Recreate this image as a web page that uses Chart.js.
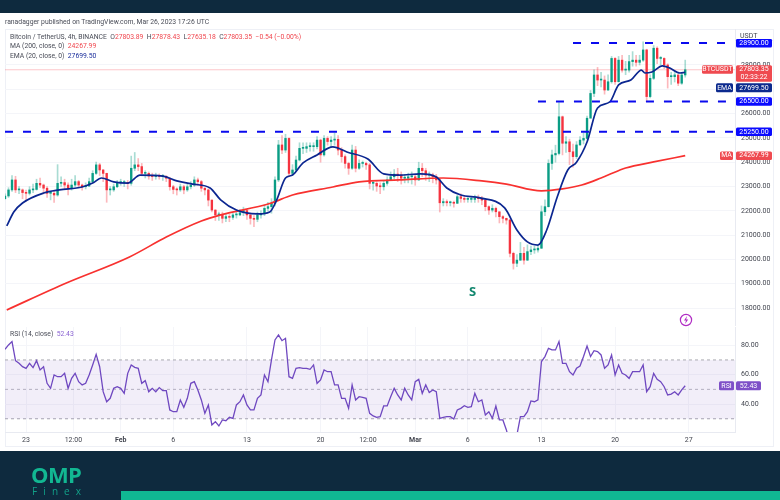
<!DOCTYPE html>
<html><head><meta charset="utf-8">
<script src="https://cdn.jsdelivr.net/npm/chart.js@4"></script>
<style>
html,body{margin:0;padding:0;background:#0e2a3e;overflow:hidden}
#page{position:relative;width:780px;height:500px;background:#0e2a3e;font-family:Roboto,sans-serif}
#white{position:absolute;left:0;top:13px;width:780px;height:438px;background:#fff}
#frame{position:absolute;left:5px;top:29px;width:769px;height:418px;border:1px solid #eef0f6;box-sizing:border-box}
canvas{position:absolute;left:0}
.t{position:absolute;white-space:pre;font-size:6.8px;line-height:9px;color:#4a4d58}
.r{color:#f0474f}.b{color:#1c2f9c}.p{color:#8a63d2}
#teal{position:absolute;left:121px;top:491px;width:659px;height:9px;background:#10b892}
</style></head><body><div id="page">
<div id="white"></div><div id="frame"></div>
<canvas id="priceChart" width="780" height="326" style="top:0;width:780px;height:326px"></canvas>
<canvas id="rsiChart" width="780" height="130" style="top:320px;width:780px;height:130px"></canvas>
<div class="t" style="left:5px;top:18px;">ranadagger published on TradingView.com, Mar 26, 2023 17:26 UTC</div>
<div class="t" style="left:10px;top:33px;">Bitcoin / TetherUS, 4h, BINANCE  O<span class="r">27803.89</span>  H<span class="r">27878.43</span>  L<span class="r">27635.18</span>  C<span class="r">27803.35</span>  <span class="r">−0.54 (−0.00%)</span></div>
<div class="t" style="left:10px;top:42px;">MA (200, close, 0)  <span class="r">24267.99</span></div>
<div class="t" style="left:10px;top:52px;">EMA (20, close, 0)  <span class="b">27699.50</span></div>
<div class="t" style="left:10px;top:330px;">RSI (14, close)  <span class="p">52.43</span></div>
<div style="position:absolute;left:469px;top:282px;font:bold 13px 'Noto Sans';color:#12876f">S</div>
<svg style="position:absolute;left:679px;top:313px" width="14" height="14" viewBox="0 0 14 14"><circle cx="7" cy="7" r="5.6" fill="#fff" stroke="#b02cc4" stroke-width="1.2"/><path d="M8 3 L5 7.5 H7 L6 11 L9.2 6.4 H7.2 Z" fill="#b02cc4"/></svg>
<div style="position:absolute;left:31px;top:462px;font:bold 22px/24px 'Open Sans';letter-spacing:-0.6px;color:#12b792">OMP</div>
<div style="position:absolute;left:32px;top:485px;font:10px/12px 'Open Sans';letter-spacing:6.1px;color:#12a088">Finex</div>
<div id="teal"></div>
</div>
<script>
// Price pane
const closes=[22610,22860,23270,22860,22860,22750,22720,22860,22880,23130,
23060,22930,22720,22720,22650,23130,23160,23060,22930,23060,
23200,23060,22990,23020,23200,23540,23890,23680,23540,22860,
22860,22990,23160,23160,23160,23130,23750,23890,23820,23540,
23540,23430,23410,23430,23410,23410,23340,22990,22880,22860,
22990,22860,22990,23060,23270,23200,22930,22860,22440,22030,
21830,21830,21690,21760,21730,21830,21830,21920,22010,21830,
21690,21650,21830,21870,22100,22170,
22310,23270,24710,24500,24980,23540,23680,24090,24570,24570,
24640,24640,24640,24910,24300,24980,24850,24910,24940,24500,
24230,23950,23750,24500,23750,23950,23950,23890,23130,23130,
23020,22990,23130,23270,23400,23510,23470,23340,23340,23400,
23400,23270,23750,23650,23470,23470,23400,23270,
22330,22380,22330,22330,22310,22580,22510,22470,22470,22470,22510,22500,22440,22170,22030,22100,21960,21760,21690,21620,
20250,19840,19970,20250,19970,20320,20390,20390,20460,
21960,22170,23950,24300,24360,25870,24780,24840,24430,24230,24710,24910,24980,25810,
26830,27590,27380,27380,26970,27310,28270,27310,28200,27790,27790,28140,28200,28110,28200,
28620,26700,27450,28690,28270,28270,28000,27520,27520,27590,27250,27590,27803];
const highs=[22700,22950,23450,23420,23000,22900,22850,22990,23100,23300,
23350,23100,23000,22800,22800,23900,23400,23300,23150,23300,
23450,23250,23100,23150,23350,23650,24000,23950,23700,23550,
23000,23100,23250,23300,23250,23250,24250,24400,24150,23950,
23650,23600,23550,23550,23520,23500,23450,23350,23050,22950,
23100,23050,23100,23200,23400,23350,23250,22950,22900,22450,
22050,21950,21950,21900,21850,21900,21950,22050,22150,22050,
21850,21800,21950,22000,22250,22350,
22500,23400,24900,25100,25150,25000,23900,24250,24800,24800,
24800,24800,24800,25050,24950,25100,25050,25050,25200,25100,
24600,24300,24000,24700,24650,24100,24050,24000,23950,23250,
23200,23150,23250,23400,23600,23700,23750,23600,23500,23550,
23600,23500,24000,23950,23750,23600,23550,23500,
23300,22500,22450,22400,22400,22650,22700,22600,22550,22600,22650,22650,22600,22450,22200,22250,22150,21950,21800,21700,
21650,20300,20200,20700,20500,20600,20550,20550,20600,
22200,22450,24100,24500,24700,26450,25900,25050,24950,24750,24850,25050,25200,25900,
26950,27800,27900,27700,27550,27600,28350,28300,28350,28400,28150,28400,28550,28400,28400,
28950,28650,27600,28800,28750,28350,28300,28050,27700,27750,27600,27700,28200];
const lows=[22480,22550,22800,22750,22700,22500,22400,22650,22750,22850,
22950,22700,22550,22450,22350,22600,23000,22900,22650,22850,
23000,22950,22850,22900,23000,23150,23500,23450,23200,22350,
22650,22800,22950,23050,23000,22900,23050,23650,23650,23450,
23350,23300,23250,23300,23300,23250,23200,22850,22700,22650,
22800,22700,22800,22900,23000,23050,22800,22650,22200,21950,
21600,21600,21500,21550,21550,21650,21700,21800,21800,21650,
21450,21350,21550,21700,21800,22000,
21900,22200,23200,24350,24400,23400,23450,23650,24050,24350,
24400,24450,24450,24550,24000,24250,24700,24650,24700,24300,
24000,23750,23500,23700,23600,23700,23800,23700,22900,22850,
22800,22700,22850,23050,23250,23300,23200,23100,23150,23150,
23100,23050,23250,23400,23250,23200,23150,23100,
21950,22200,22200,22200,22150,22300,22350,22350,22350,22350,22350,22350,22250,22000,21850,21950,21750,21500,21500,21450,
20100,19600,19700,19950,19800,19950,20200,20250,20300,
20450,21800,22150,23700,24000,24300,24300,24400,23900,23800,24150,24700,24750,24950,
26600,26700,27150,27100,26800,26950,27250,27200,27300,27700,27600,27700,27950,27950,28000,
28150,26500,26650,27400,28050,28000,27850,27050,27200,27300,27150,27200,27500];
const firstOpen=22500;
const maBars=[1,35,71,92,112,123,151,164,187,202,225,250,272,286,306,318,329,340,344,354,370,388];
const maValues=[17920,19030,20100,20920,21580,21830,22300,22650,22980,23190,23270,23350,23230,23100,22820,22900,23060,23350,23470,23760,24010,24268];
const emaBars=[1,5,10,22,31,44,50,55,62,70,77,90,98,107,117,123,132,144,151,155,160,164,170,178,187,195,207,216,225,237,246,252,260,271,285,292,298,304,309,315,321,326,332,338,345,350,357,363,365,369,375,379,385,388];
const emaValues=[21375,21950,22320,22730,22860,22980,23140,23350,23190,23140,23470,23430,23230,23100,22940,22450,22030,21870,21950,22450,23350,23470,23970,24300,24630,24420,24130,23520,23470,23520,23390,22940,22650,22530,22120,21210,20720,20590,21210,22570,23680,24000,24830,26230,26480,27180,27380,27790,27670,27710,27960,27880,27670,27700];
const levelValues=[28900,26500,25250];
const levelStarts=[324,304,0];
const lastPrice=27803.35;
const priceTicks=[18000,19000,20000,21000,22000,23000,24000,25000,26000,27000,28000];
// RSI pane
const rsiValues=[77.2,80.2,82.5,69.5,67.7,65.4,64.3,67.7,64.8,69.5,
63.2,65.4,54.1,50.7,59.8,58.6,58.6,60.9,50.7,57.5,
60.9,55.2,53,54.1,59.8,66.6,73.8,65.4,48.4,41.6,
43.9,50.7,51.8,50.7,47.3,60.9,66.6,65,64.3,54.1,
55.9,48.4,50.7,48.4,51.2,49.1,49.1,36,34.8,34.8,
42.8,37.8,43.9,54.1,55.2,49.6,42.8,33.7,39.4,25.8,
28,25.1,29.2,28.7,31,30.3,39.4,41.6,46.2,39.4,
36,36,43.9,46.2,59.8,55.2,70,83.6,87,83.1,
84.7,58.6,57.5,64.3,64.8,64.3,64.3,63.6,66.6,54.1,
56.4,63.2,62,62,53,53,43.9,43.9,37.1,53,
42.8,45,44.6,43.9,33.7,31.9,31,31.4,38.7,38.7,
45,50.7,46.2,42.8,50.7,46.2,42.8,55.2,56.8,47.3,
53,47.8,49.6,48.4,
30.3,31,31.4,31.4,29.8,36,37.1,38.9,37.8,38.2,
47.3,41.6,42.8,32.6,34.8,30.3,38.7,29.2,29.2,22.4,
13.3,11,19,31.4,31.4,34.8,42.1,41.6,42.8,
68.9,72.3,77.9,76.8,76.8,82.5,67.7,67.7,62,59.8,
64.3,65.9,72.3,79.5,72.3,76.3,75.7,73.4,64.3,66.6,
73.4,59.8,66.6,60.9,59.8,57.5,62,62,62,66.6,
48.4,51.8,60.9,56.8,55.2,51.8,46.2,46.8,48.4,46.2,49.6,52.43];
const rsiBandUpper=70, rsiMiddle=50, rsiBandLower=30;
const rsiTicks=[40,60,80];
// Time axis
const tickBars=[12,39,66,96,138,180,207,234,264,306,348,390];
const tickLabels=['23','12:00','Feb','6','13','20','12:00','Mar','6','13','20','27'];
const xMin=0,xMax=416.4;

const FONT='Roboto';
const FS=7;
const TEAL='#0a9d85',RED='#f5333f';
const GRID='#f4f5f9';
const barOf=k=>k*2;
const opens=closes.map((c,k)=>k?closes[k-1]:firstOpen);
const upFlags=closes.map((c,k)=>c>=opens[k]);
const candleBody=closes.map((c,k)=>({x:barOf(k),y:[opens[k],c]}));
const candleWick=closes.map((c,k)=>({x:barOf(k),y:[lows[k],highs[k]]}));
const seg=(bars,vals)=>bars.map((b,i)=>({x:b,y:vals[i]}));
const noPad=s=>{s.paddingTop=0;s.paddingBottom=0;s.paddingLeft=0;s.paddingRight=0};

function xScale(display){return {type:'linear',min:xMin,max:xMax,display:display,offset:false,
  afterBuildTicks:s=>{s.ticks=tickBars.map(v=>({value:v}))},
  afterFit:s=>{if(display)s.height=15;noPad(s)},
  grid:{color:GRID,drawTicks:false,offset:false},
  border:{display:display,color:'#e8eaf1'},
  ticks:{autoSkip:false,maxRotation:0,padding:4,color:'#42454f',
    font:c=>{const l=tickLabels[tickBars.indexOf(c.tick&&c.tick.value)];return {family:FONT,size:FS,weight:(l==='Feb'||l==='Mar')?'bold':'normal'}},
    callback:v=>{const i=tickBars.indexOf(v);return i<0?'':tickLabels[i]}}}}

function tag(ctx,x0,x1,y0,y1,bg,lines){
  ctx.save();ctx.fillStyle=bg;ctx.beginPath();ctx.roundRect(x0,y0,x1-x0,y1-y0,1.5);ctx.fill();
  ctx.fillStyle='#fff';ctx.font=FS+'px '+FONT;ctx.textAlign='center';ctx.textBaseline='middle';
  const h=(y1-y0)/lines.length;
  lines.forEach((t,i)=>ctx.fillText(t,(x0+x1)/2,y0+h*(i+.5)));ctx.restore();
}
const priceTags={id:'priceTags',afterDraw(c){const y=c.scales.y,g=c.ctx;
  const P=v=>y.getPixelForValue(v);
  levelValues.forEach(v=>tag(g,736,772,P(v)-4.3,P(v)+4.3,'#0a0aff',[v.toFixed(2)]));
  const pl=P(lastPrice);
  tag(g,736,772,pl-4.5,pl+12,'#ef4a50',[lastPrice.toFixed(2),'02:33:22']);
  tag(g,702,733,pl-4.5,pl+4,'#ef4a50',['BTCUSDT']);
  const e=P(emaValues[emaValues.length-1]);
  tag(g,736,772,e+11,e+20,'#0c2a8e',['27699.50']);
  tag(g,716,733,e+11,e+20,'#0c2a8e',['EMA']);
  const m=P(maValues[maValues.length-1]);
  tag(g,736,772,m-4.3,m+4.3,'#ef4a50',['24267.99']);
  tag(g,720,733,m-4.3,m+4.3,'#ef4a50',['MA']);
  g.save();g.fillStyle='#fff';g.fillRect(736,30,36,9);g.fillStyle='#42454f';g.font=FS+'px '+FONT;g.textBaseline='middle';g.fillText('USDT',740,36);g.restore();
}};
const rsiTags={id:'rsiTags',afterDraw(c){const y=c.scales.y,g=c.ctx;const p=y.getPixelForValue(rsiValues[rsiValues.length-1]);
  tag(g,736,761,p-4.5,p+4.5,'#7e50c8',['52.43']);tag(g,719,734,p-4.5,p+4.5,'#7e50c8',['RSI']);
}};

const priceDatasets=[
 {type:'bar',data:candleWick,grouped:false,barThickness:1,order:6,
  backgroundColor:upFlags.map(u=>u?'rgba(8,154,130,.35)':'rgba(245,51,63,.35)')},
 {type:'bar',data:candleBody,grouped:false,barThickness:1.7,minBarLength:1,order:5,
  backgroundColor:upFlags.map(u=>u?TEAL:RED)},
 {type:'line',data:[{x:xMin,y:lastPrice},{x:xMax,y:lastPrice}],borderColor:'rgba(245,51,63,.28)',borderWidth:1,pointRadius:0,order:7},
 {type:'line',data:seg(maBars,maValues),borderColor:'#f8312f',borderWidth:1.7,pointRadius:0,cubicInterpolationMode:'monotone',order:3},
 {type:'line',data:seg(emaBars,emaValues),borderColor:'#0b2690',borderWidth:1.7,pointRadius:0,cubicInterpolationMode:'monotone',order:2}
];
levelValues.forEach((v,i)=>priceDatasets.push({type:'line',data:[{x:levelStarts[i],y:v},{x:xMax,y:v}],
  borderColor:'#0a0aee',borderWidth:2,borderDash:[8,10],pointRadius:0,order:1}));

new Chart(document.getElementById('priceChart'),{type:'bar',data:{datasets:priceDatasets},plugins:[priceTags],
 options:{responsive:false,animation:false,devicePixelRatio:1,
  layout:{padding:{left:5,top:29,right:0,bottom:1}},
  plugins:{legend:{display:false},tooltip:{enabled:false}},
  scales:{x:xScale(false),
   y:{type:'linear',position:'right',min:17301,max:29481,
    afterBuildTicks:s=>{s.ticks=priceTicks.map(v=>({value:v}))},
    afterFit:s=>{s.width=45;noPad(s)},
    grid:{color:GRID,drawTicks:false},border:{color:'#e8eaf1'},
    ticks:{padding:6,color:'#42454f',font:{family:FONT,size:FS},
     callback:v=>Number(v).toFixed(2)}}}}});

const constLine=(v,color,dash,extra)=>Object.assign({type:'line',data:[{x:xMin,y:v},{x:xMax,y:v}],borderColor:color,borderWidth:1,borderDash:dash,pointRadius:0,fill:false},extra||{});
new Chart(document.getElementById('rsiChart'),{type:'line',data:{datasets:[
  {type:'line',data:rsiValues.map((v,k)=>({x:barOf(k),y:v})),borderColor:'#6f48c0',borderWidth:1.3,pointRadius:0,tension:0,order:1},
  constLine(rsiBandUpper,'#a9a9b0',[3,3],{order:3,fill:'+2',backgroundColor:'rgba(126,87,194,.1)'}),
  constLine(rsiMiddle,'#b9b9bf',[3,3],{order:3}),
  constLine(rsiBandLower,'#a9a9b0',[3,3],{order:3})
 ]},plugins:[rsiTags],
 options:{responsive:false,animation:false,devicePixelRatio:1,
  layout:{padding:{left:5,top:7,right:0,bottom:3}},
  plugins:{legend:{display:false},tooltip:{enabled:false},filler:{propagate:false}},
  scales:{x:xScale(true),
   y:{type:'linear',position:'right',min:21,max:92.4,
    afterBuildTicks:s=>{s.ticks=rsiTicks.map(v=>({value:v}))},
    afterFit:s=>{s.width=45;noPad(s)},
    grid:{color:GRID,drawTicks:false},border:{color:'#e8eaf1'},
    ticks:{padding:6,color:'#42454f',font:{family:FONT,size:FS},
     callback:v=>Number(v).toFixed(2)}}}}});
</script></body></html>
